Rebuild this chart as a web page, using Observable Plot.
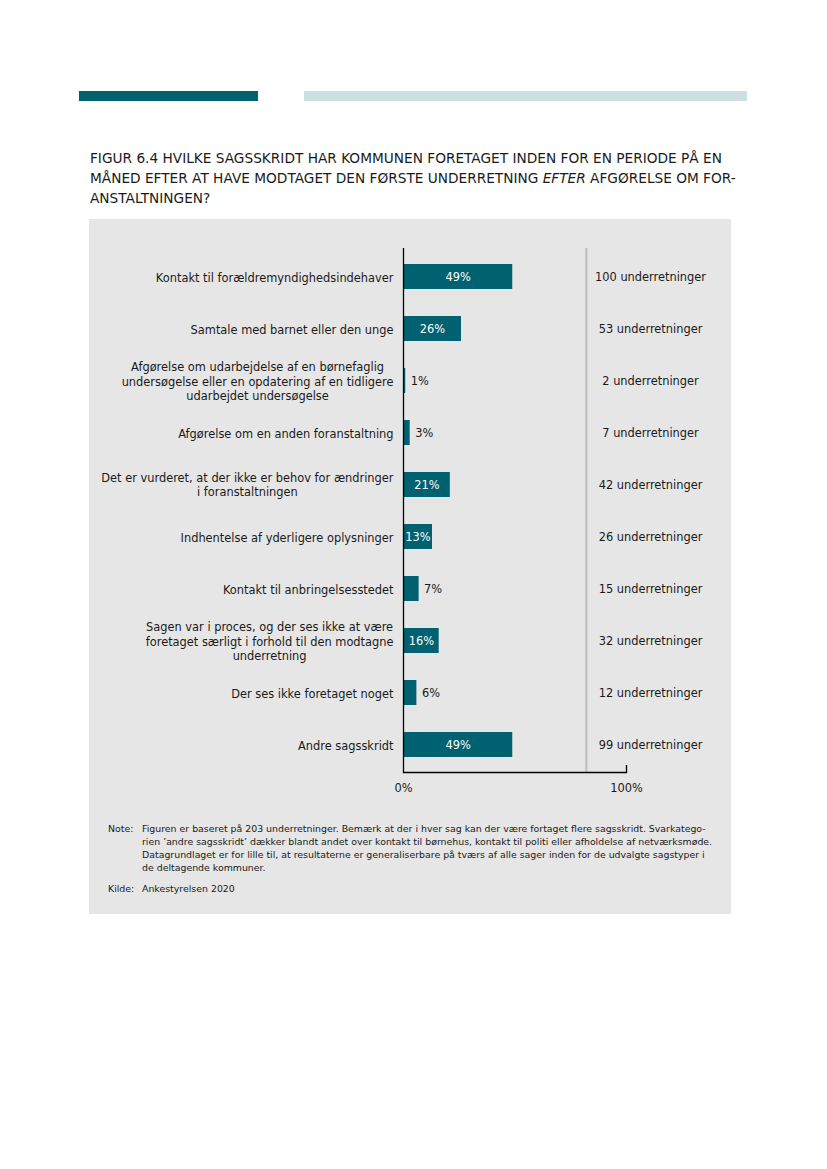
<!DOCTYPE html>
<html>
<head>
<meta charset="utf-8">
<script src="https://cdn.jsdelivr.net/npm/d3@7"></script>
<script src="https://cdn.jsdelivr.net/npm/@observablehq/plot@0.6"></script>
<style>
  html, body { margin: 0; padding: 0; background: #ffffff; }
  body { width: 827px; height: 1169px; position: relative; font-family: "DejaVu Sans", Verdana, sans-serif; color: #1a1a1a; }
  .bar-dark { position: absolute; left: 79px; top: 91px; width: 179px; height: 10px; background: #006170; }
  .bar-light { position: absolute; left: 304px; top: 91px; width: 443px; height: 10px; background: #cce0e4; }
  .title { position: absolute; left: 90px; top: 148px; width: 700px; font-size: 13.7px; line-height: 20px; letter-spacing: 0; color: #1a1a1a; white-space: nowrap; }
  .panel { position: absolute; left: 89px; top: 219px; width: 642px; height: 695px; background: #e6e6e6; }
  #chart { position: absolute; left: 0; top: 21px; }
  .notes { position: absolute; left: 19px; top: 603px; width: 620px; font-size: 9.4px; line-height: 13px; color: #1a1a1a; white-space: nowrap; }
  .notes .row { display: flex; }
  .notes .lab { width: 34px; flex: none; }
  .notes .txt { flex: 1; }
</style>
</head>
<body>
<div class="bar-dark"></div>
<div class="bar-light"></div>
<div class="title">FIGUR 6.4 HVILKE SAGSSKRIDT HAR KOMMUNEN FORETAGET INDEN FOR EN PERIODE PÅ EN<br>MÅNED EFTER AT HAVE MODTAGET DEN FØRSTE UNDERRETNING <i>EFTER</i> AFGØRELSE OM FOR-<br>ANSTALTNINGEN?</div>
<div class="panel">
  <div id="chart"></div>
  <div class="notes">
    <div class="row"><div class="lab">Note:</div><div class="txt">Figuren er baseret på 203 underretninger. Bemærk at der i hver sag kan der være fortaget flere sagsskridt. Svarkatego-<br>rien ’andre sagsskridt’ dækker blandt andet over kontakt til børnehus, kontakt til politi eller afholdelse af netværksmøde.<br>Datagrundlaget er for lille til, at resultaterne er generaliserbare på tværs af alle sager inden for de udvalgte sagstyper i<br>de deltagende kommuner.</div></div>
    <div class="row" style="margin-top:8px"><div class="lab">Kilde:</div><div class="txt">Ankestyrelsen 2020</div></div>
  </div>
</div>
<script>
const categories = [
  "Kontakt til forældremyndighedsindehaver",
  "Samtale med barnet eller den unge",
  "Afgørelse om udarbejdelse af en børnefaglig\nundersøgelse eller en opdatering af en tidligere\nudarbejdet undersøgelse",
  "Afgørelse om en anden foranstaltning",
  "Det er vurderet, at der ikke er behov for ændringer\ni foranstaltningen",
  "Indhentelse af yderligere oplysninger",
  "Kontakt til anbringelsesstedet",
  "Sagen var i proces, og der ses ikke at være\nforetaget særligt i forhold til den modtagne\nunderretning",
  "Der ses ikke foretaget noget",
  "Andre sagsskridt"
];
const shares = [49, 26, 1, 3, 21, 13, 7, 16, 6, 49];
const counts = [100, 53, 2, 7, 42, 26, 15, 32, 12, 99];
const xTicks = [0, 100];
const separatorAt = [82];

const data = categories.map((c, i) => ({category: c, share: shares[i], count: counts[i]}));
const teal = "#006170";
const fs = 11.4;
const fontFamily = "DejaVu Sans, Verdana, sans-serif";
const inside = data.filter(d => d.share >= 10);
const outside = data.filter(d => d.share < 10);

// measure label widths so multi-line labels are centred as a block, right edge at the axis padding
const ctx = document.createElement("canvas").getContext("2d");
ctx.font = `${fs}px "DejaVu Sans"`;
const blockWidth = s => Math.max(...s.split("\n").map(l => ctx.measureText(l).width));
const labelPad = 10;
const labelMarks = data.map(d => Plot.text([d], {
  y: "category", text: "category", frameAnchor: "left", textAnchor: "middle",
  dx: -(labelPad + blockWidth(d.category) / 2), fill: "#1a1a1a", fontSize: fs, lineHeight: 1.23
}));

const chart = Plot.plot({
  width: 642,
  height: 560,
  marginLeft: 314,
  marginRight: 105,
  marginTop: 8,
  marginBottom: 28,
  style: {background: "transparent", fontFamily, fontSize: fs + "px", color: "#1a1a1a"},
  x: {domain: [0, 100], label: null},
  y: {domain: categories, paddingInner: 0.52, paddingOuter: 0.26, label: null, axis: null},
  marks: [
    Plot.ruleX(separatorAt, {stroke: "#bcbcbc", strokeWidth: 2}),
    Plot.barX(data, {y: "category", x: "share", fill: teal}),
    Plot.text(inside, {y: "category", x: d => d.share / 2, text: d => d.share + "%", fill: "white", fontSize: fs}),
    Plot.text(outside, {y: "category", x: "share", text: d => d.share + "%", textAnchor: "start", dx: 5, fill: "#1a1a1a", fontSize: fs}),
    Plot.text(data, {y: "category", text: d => d.count + " underretninger", frameAnchor: "right", textAnchor: "middle", dx: 24, fill: "#1a1a1a", fontSize: fs}),
    Plot.ruleX(xTicks.slice(0, 1), {stroke: "#000", strokeWidth: 1.3}),
    Plot.frame({anchor: "bottom", stroke: "#000", strokeWidth: 1.3}),
    Plot.axisX(xTicks, {tickFormat: d => d + "%", tickSize: 0, tickPadding: 11, fontSize: fs, fill: "#1a1a1a", label: null}),
    Plot.axisX(xTicks.slice(1), {tickSize: -7, text: null, stroke: "#000", strokeWidth: 1.3, label: null}),
    ...labelMarks
  ]
});
document.getElementById("chart").appendChild(chart);
</script>
</body>
</html>
